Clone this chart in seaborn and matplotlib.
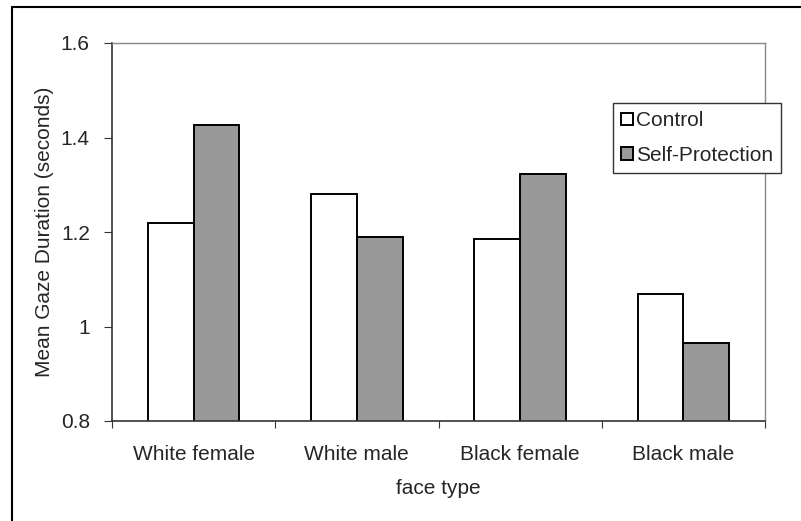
import matplotlib

matplotlib.use('Agg')
import matplotlib.pyplot as plt
import pandas as pd
import seaborn as sns
from matplotlib.lines import Line2D
from matplotlib.ticker import FuncFormatter

face_types = ['White female', 'White male', 'Black female', 'Black male']
control = [1.22, 1.28, 1.186, 1.069]
self_protection = [1.426, 1.189, 1.323, 0.966]
conditions = ['Control', 'Self-Protection']

data = pd.DataFrame({
    'face type': face_types * 2,
    'duration': control + self_protection,
    'condition': [conditions[0]] * 4 + [conditions[1]] * 4,
})

sns.set_style('white')
plt.rcParams['font.family'] = ['Liberation Sans', 'DejaVu Sans']

fig = plt.figure(figsize=(8.01, 5.21), dpi=100)
ax = fig.add_axes([112 / 801, 1 - 421 / 521, (765 - 112) / 801, (421 - 43) / 521])

sns.barplot(data=data, x='face type', y='duration', hue='condition',
            palette=['white', '#999999'], width=0.56, gap=0,
            edgecolor='black', linewidth=1.4, saturation=1, ax=ax)

ax.set_ylim(0.8, 1.6)
ax.set_yticks([0.8, 1.0, 1.2, 1.4, 1.6])
ax.yaxis.set_major_formatter(FuncFormatter(lambda v, p: f'{v:g}'))
ax.set_xlim(-0.5, 3.5)
ax.set_xticks([-0.5, 0.5, 1.5, 2.5, 3.5], minor=False)
ax.set_xticklabels([])
ax.set_xticks([0, 1, 2, 3], minor=True)
ax.set_xticklabels(face_types, minor=True)
ax.tick_params(axis='x', which='minor', length=0, labelsize=15, pad=17)
ax.tick_params(axis='x', which='major', direction='out', length=5, color='#333333')
ax.tick_params(axis='y', direction='out', length=6, color='#333333', labelsize=15, pad=10)
ax.tick_params(left=True, bottom=True)

for s in ['left', 'bottom']:
    ax.spines[s].set_color('#333333')
    ax.spines[s].set_linewidth(1.2)
for s in ['top', 'right']:
    ax.spines[s].set_color('#888888')
    ax.spines[s].set_linewidth(1.0)

ax.set_ylabel('Mean Gaze Duration (seconds)', fontsize=15, labelpad=5)
ax.set_xlabel('face type', fontsize=15, labelpad=11)

handles, labels = ax.get_legend_handles_labels()
ax.legend(handles, labels, loc='upper left', bbox_to_anchor=(613 / 801, 1 - 103 / 521),
          bbox_transform=fig.transFigure, fancybox=False, edgecolor='#333333',
          framealpha=1, fontsize=15, handlelength=0.55, handleheight=0.55,
          handletextpad=0.15, labelspacing=0.75, borderpad=0.4, borderaxespad=0)

fig.add_artist(Line2D([12 / 801, 12 / 801], [0, 1 - 7 / 521], color='black', lw=1.5))
fig.add_artist(Line2D([12 / 801, 1], [1 - 7 / 521, 1 - 7 / 521], color='black', lw=1.5))

fig.savefig('out.png', dpi=100)
